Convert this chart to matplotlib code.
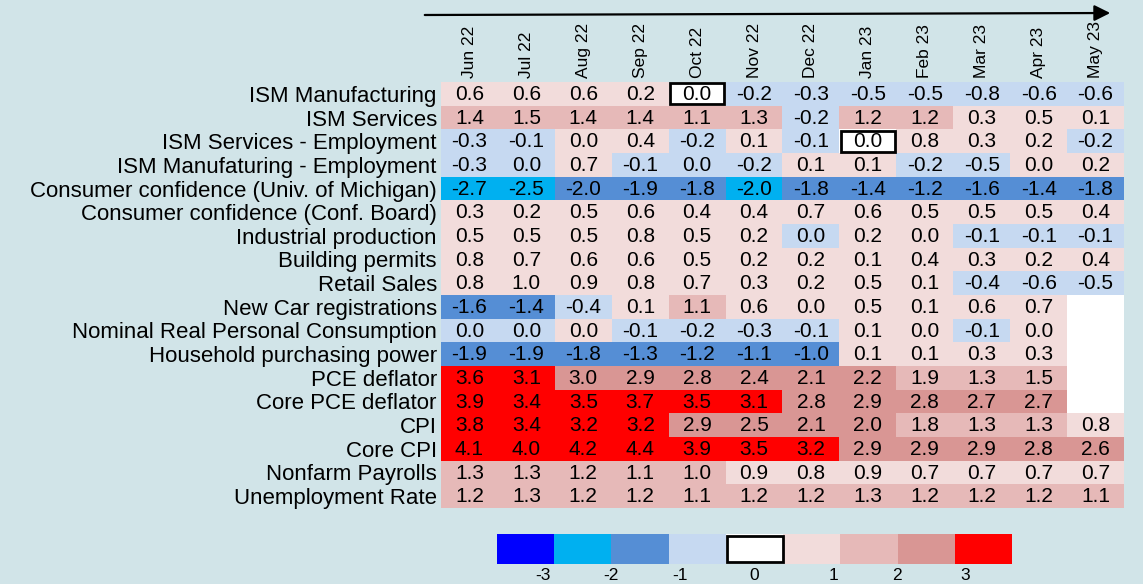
import numpy as np
import matplotlib
matplotlib.use('Agg')
import matplotlib.pyplot as plt
from matplotlib.colors import ListedColormap, BoundaryNorm
from matplotlib.patches import Rectangle

plt.rcParams['font.family'] = ['Liberation Sans', 'DejaVu Sans']

months = ['Jun 22', 'Jul 22', 'Aug 22', 'Sep 22', 'Oct 22', 'Nov 22',
          'Dec 22', 'Jan 23', 'Feb 23', 'Mar 23', 'Apr 23', 'May 23']

indicators = [
    'ISM Manufacturing',
    'ISM Services',
    'ISM Services - Employment',
    'ISM Manufaturing - Employment',
    'Consumer confidence (Univ. of Michigan)',
    'Consumer confidence (Conf. Board)',
    'Industrial production',
    'Building permits',
    'Retail Sales',
    'New Car registrations',
    'Nominal Real Personal Consumption',
    'Household purchasing power',
    'PCE deflator',
    'Core PCE deflator',
    'CPI',
    'Core CPI',
    'Nonfarm Payrolls',
    'Unemployment Rate',
]

nan = np.nan
values = [
    [0.6, 0.6, 0.6, 0.2, 0.0, -0.2, -0.3, -0.5, -0.5, -0.8, -0.6, -0.6],
    [1.4, 1.5, 1.4, 1.4, 1.1, 1.3, -0.2, 1.2, 1.2, 0.3, 0.5, 0.1],
    [-0.3, -0.1, 0.0, 0.4, -0.2, 0.1, -0.1, 0.0, 0.8, 0.3, 0.2, -0.2],
    [-0.3, 0.0, 0.7, -0.1, 0.0, -0.2, 0.1, 0.1, -0.2, -0.5, 0.0, 0.2],
    [-2.7, -2.5, -2.0, -1.9, -1.8, -2.0, -1.8, -1.4, -1.2, -1.6, -1.4, -1.8],
    [0.3, 0.2, 0.5, 0.6, 0.4, 0.4, 0.7, 0.6, 0.5, 0.5, 0.5, 0.4],
    [0.5, 0.5, 0.5, 0.8, 0.5, 0.2, 0.0, 0.2, 0.0, -0.1, -0.1, -0.1],
    [0.8, 0.7, 0.6, 0.6, 0.5, 0.2, 0.2, 0.1, 0.4, 0.3, 0.2, 0.4],
    [0.8, 1.0, 0.9, 0.8, 0.7, 0.3, 0.2, 0.5, 0.1, -0.4, -0.6, -0.5],
    [-1.6, -1.4, -0.4, 0.1, 1.1, 0.6, 0.0, 0.5, 0.1, 0.6, 0.7, nan],
    [0.0, 0.0, 0.0, -0.1, -0.2, -0.3, -0.1, 0.1, 0.0, -0.1, 0.0, nan],
    [-1.9, -1.9, -1.8, -1.3, -1.2, -1.1, -1.0, 0.1, 0.1, 0.3, 0.3, nan],
    [3.6, 3.1, 3.0, 2.9, 2.8, 2.4, 2.1, 2.2, 1.9, 1.3, 1.5, nan],
    [3.9, 3.4, 3.5, 3.7, 3.5, 3.1, 2.8, 2.9, 2.8, 2.7, 2.7, nan],
    [3.8, 3.4, 3.2, 3.2, 2.9, 2.5, 2.1, 2.0, 1.8, 1.3, 1.3, 0.8],
    [4.1, 4.0, 4.2, 4.4, 3.9, 3.5, 3.2, 2.9, 2.9, 2.9, 2.8, 2.6],
    [1.3, 1.3, 1.2, 1.1, 1.0, 0.9, 0.8, 0.9, 0.7, 0.7, 0.7, 0.7],
    [1.2, 1.3, 1.2, 1.2, 1.1, 1.2, 1.2, 1.3, 1.2, 1.2, 1.2, 1.1],
]

# colour class of each cell (index into class_colors)
classes = [
    [5, 5, 5, 5, 4, 3, 3, 3, 3, 3, 3, 3],
    [6, 6, 6, 6, 6, 6, 3, 6, 6, 5, 5, 5],
    [3, 3, 5, 5, 3, 5, 3, 4, 5, 5, 5, 3],
    [3, 3, 5, 3, 3, 3, 5, 5, 3, 3, 5, 5],
    [1, 1, 2, 2, 2, 1, 2, 2, 2, 2, 2, 2],
    [5, 5, 5, 5, 5, 5, 5, 5, 5, 5, 5, 5],
    [5, 5, 5, 5, 5, 5, 3, 5, 5, 3, 3, 3],
    [5, 5, 5, 5, 5, 5, 5, 5, 5, 5, 5, 5],
    [5, 5, 5, 5, 5, 5, 5, 5, 5, 3, 3, 3],
    [2, 2, 3, 5, 6, 5, 5, 5, 5, 5, 5, 4],
    [3, 3, 5, 3, 3, 3, 3, 5, 5, 3, 5, 4],
    [2, 2, 2, 2, 2, 2, 2, 5, 5, 5, 5, 4],
    [8, 8, 7, 7, 7, 7, 7, 7, 6, 6, 6, 4],
    [8, 8, 8, 8, 8, 8, 7, 7, 7, 7, 7, 4],
    [8, 8, 8, 8, 7, 7, 7, 7, 6, 6, 6, 5],
    [8, 8, 8, 8, 8, 8, 8, 7, 7, 7, 7, 7],
    [6, 6, 6, 6, 6, 5, 5, 5, 5, 5, 5, 5],
    [6, 6, 6, 6, 6, 6, 6, 6, 6, 6, 6, 6],
]

class_colors = ['#0000FF', '#00B0F0', '#558ED5', '#C6D9F1', '#FFFFFF',
                '#F2DCDB', '#E6B9B8', '#D99694', '#FF0000']
legend_labels = ['-3', '-2', '-1', '0', '1', '2', '3']

BG = '#D1E4E8'
W, H = 1143, 584
fig = plt.figure(figsize=(W / 100, H / 100), dpi=100)
fig.patch.set_facecolor(BG)

vals = np.array(values, dtype=float)
cls = np.array(classes)
nrows, ncols = vals.shape
cmap = ListedColormap(class_colors)
norm = BoundaryNorm(np.arange(-0.5, len(class_colors) + 0.5, 1), cmap.N)

# main heatmap
x0, x1, y0, y1 = 441, 1124, 82, 508
ax = fig.add_axes([x0 / W, 1 - y1 / H, (x1 - x0) / W, (y1 - y0) / H])
ax.imshow(cls, cmap=cmap, norm=norm, aspect='auto', interpolation='nearest')
ax.set_xlim(-0.5, ncols - 0.5)
ax.set_ylim(nrows - 0.5, -0.5)
for s in ax.spines.values():
    s.set_visible(False)
ax.set_yticks(range(nrows))
ax.set_yticklabels(indicators, fontsize=16)
ax.set_xticks(range(ncols))
ax.set_xticklabels(months, rotation=90, fontsize=12.5)
ax.xaxis.tick_top()
ax.tick_params(axis='both', length=0)
ax.tick_params(axis='y', pad=3)
ax.tick_params(axis='x', pad=3)

for i in range(nrows):
    for j in range(ncols):
        v = vals[i, j]
        if np.isnan(v):
            continue
        ax.text(j, i + 0.03, f'{v:.1f}', ha='center', va='center', fontsize=15,
                color='black')
        if cls[i, j] == 4:
            ax.add_patch(Rectangle((j - 0.47, i - 0.44), 0.94, 0.88,
                                   fill=False, edgecolor='black', lw=2, zorder=3))

# arrow
fig.add_artist(matplotlib.patches.FancyArrowPatch(
    (422 / W, 1 - 15 / H), (1113 / W, 1 - 13 / H), transform=fig.transFigure,
    arrowstyle='-|>', mutation_scale=24, lw=1.6, color='black'))

# legend
lx0, lx1, ly0, ly1 = 497, 1011, 534, 564
lax = fig.add_axes([lx0 / W, 1 - ly1 / H, (lx1 - lx0) / W, (ly1 - ly0) / H])
lax.imshow([list(range(len(class_colors)))], cmap=cmap, norm=norm,
           aspect='auto', interpolation='nearest',
           extent=(0, len(class_colors), 1, 0))
lax.set_xlim(0, len(class_colors))
lax.set_ylim(1, 0)
lax.axis('off')
lax.add_patch(Rectangle((4.02, 0.06), 0.98, 0.88, fill=False,
                        edgecolor='black', lw=2))
label_pos = [0.8, 2.0, 3.2, 4.5, 5.9, 7.0, 8.2]
for lab, p in zip(legend_labels, label_pos):
    lax.text(p, 1.4, lab, ha='center', va='center', fontsize=12.5,
             transform=lax.transData, clip_on=False)

fig.savefig('out.png', dpi=100, facecolor=BG)
